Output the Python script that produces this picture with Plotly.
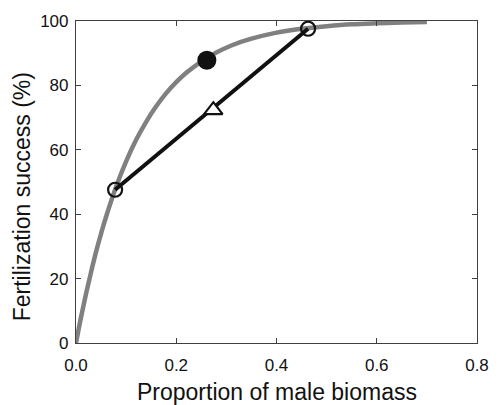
import plotly.graph_objects as go

# Gray fertilization curve
curve_x = [0, 0.01, 0.02, 0.03, 0.04, 0.05, 0.06, 0.08, 0.10, 0.12, 0.14, 0.16, 0.18,
           0.20, 0.22, 0.25, 0.28, 0.31, 0.35, 0.40, 0.45, 0.50, 0.55, 0.60, 0.65, 0.70]
curve_y = [0, 8.0, 15.3, 22.0, 28.3, 34.0, 39.2, 48.5, 56.4, 63.1, 68.7, 73.5, 77.6,
           81.0, 83.9, 87.4, 90.2, 92.4, 94.5, 96.4, 97.6, 98.4, 99.0, 99.3, 99.5, 99.7]

# Black line between two open circles
line_x = [0.078, 0.463]
line_y = [47.6, 97.6]

# Triangle (mean of the two)
tri_x = [0.274]
tri_y = [72.3]

# Filled circle
dot_x = [0.261]
dot_y = [87.8]

x_ticks = [0.0, 0.2, 0.4, 0.6, 0.8]
x_tick_labels = ["0.0", "0.2", "0.4", "0.6", "0.8"]
y_ticks = [0, 20, 40, 60, 80, 100]

x_title = "Proportion of male biomass"
y_title = "Fertilization success (%)"

FONT = "Liberation Sans, Arial, Helvetica, sans-serif"

fig = go.Figure()
fig.add_trace(go.Scatter(x=curve_x, y=curve_y, mode="lines", line_shape="spline",
                         line=dict(color="#808080", width=4.5), hoverinfo="skip"))
fig.add_trace(go.Scatter(x=line_x, y=line_y, mode="lines+markers",
                         line=dict(color="#111111", width=4),
                         marker=dict(symbol="circle-open", size=14, color="#111111",
                                     line=dict(width=2.2, color="#111111"))))
fig.add_trace(go.Scatter(x=tri_x, y=tri_y, mode="markers",
                         marker=dict(symbol="triangle-up", size=16, color="white",
                                     line=dict(width=2.2, color="#111111"))))
fig.add_trace(go.Scatter(x=dot_x, y=dot_y, mode="markers",
                         marker=dict(symbol="circle", size=19, color="#111111",
                                     line=dict(width=0))))

axis_common = dict(showgrid=False, zeroline=False, showline=True, linecolor="#404040",
                   linewidth=1.2, mirror="ticks", ticks="inside", ticklen=5,
                   tickcolor="#404040", tickwidth=1.2,
                   tickfont=dict(family=FONT, size=17, color="#111111"))

fig.update_xaxes(range=[0, 0.8], tickvals=x_ticks, ticktext=x_tick_labels,
                 ticklabelstandoff=6, **axis_common)
fig.update_yaxes(range=[0, 100], tickvals=y_ticks, ticklabelstandoff=3, **axis_common)

fig.add_annotation(text=x_title, xref="paper", yref="paper", x=0.5, y=-0.153,
                   xanchor="center", yanchor="middle", showarrow=False,
                   font=dict(family=FONT, size=23, color="#111111"))
fig.add_annotation(text=y_title, xref="paper", yref="paper", x=-0.136, y=0.454,
                   xanchor="center", yanchor="middle", textangle=-90, showarrow=False,
                   font=dict(family=FONT, size=23, color="#111111"))

fig.update_layout(width=501, height=405, margin=dict(l=76, r=14, t=15, b=62),
                  paper_bgcolor="white", plot_bgcolor="white", showlegend=False)

fig.write_html("out.html")
